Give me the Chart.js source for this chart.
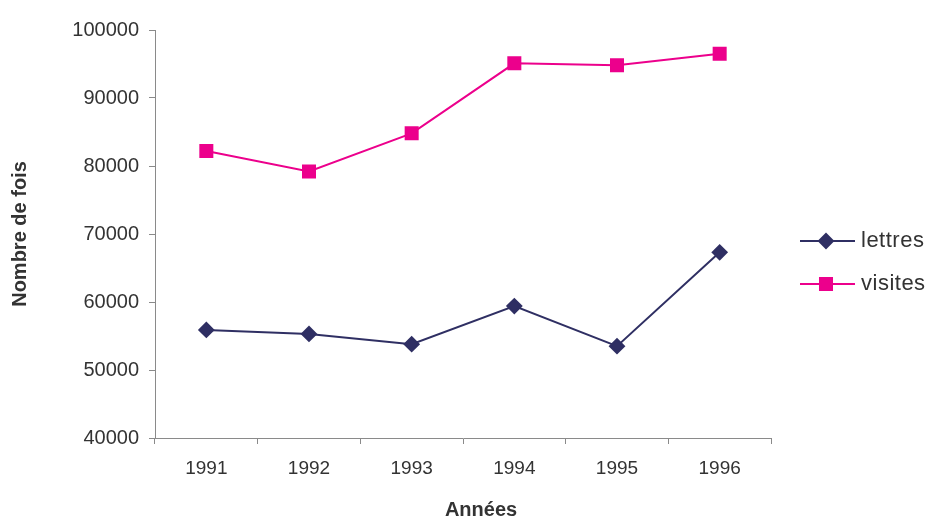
<!DOCTYPE html>
<html>
<head>
<meta charset="utf-8">
<script src="https://cdn.jsdelivr.net/npm/chart.js@4"></script>
<style>
  html, body { margin: 0; padding: 0; background: #fff; }
  #wrap { width: 929px; height: 518px; }
</style>
</head>
<body>
<div id="wrap"><canvas id="chart"></canvas></div>
<script>
const years = ["1991", "1992", "1993", "1994", "1995", "1996"];
const lettres = [55900, 55300, 53800, 59400, 53500, 67300];
const visites = [82200, 79200, 84800, 95100, 94800, 96500];
const yTicks = [40000, 50000, 60000, 70000, 80000, 90000, 100000];

const FONT = "'Liberation Sans', Arial, sans-serif";
const AXIS = "#8a8a8a";
const TEXT = "#333333";

// legend + x title drawn by hand (line with marker, like the original)
const sideLegend = {
  id: "sideLegend",
  afterDraw(chart) {
    const ctx = chart.ctx;
    chart.data.datasets.forEach((ds, i) => {
      const y = 241 + i * 43;
      ctx.save();
      ctx.strokeStyle = ds.borderColor;
      ctx.lineWidth = 2;
      ctx.beginPath();
      ctx.moveTo(800, y);
      ctx.lineTo(855, y);
      ctx.stroke();
      Chart.helpers.drawPoint(ctx, {
        pointStyle: ds.pointStyle,
        radius: ds.pointRadius,
        borderWidth: 1
      }, 826, y);
      ctx.fillStyle = ds.borderColor;
      ctx.fill();
      ctx.fillStyle = TEXT;
      ctx.font = "22px " + FONT;
      ctx.letterSpacing = "0.5px";
      ctx.textBaseline = "middle";
      ctx.fillText(ds.label, 861, y);
      ctx.restore();
    });
    ctx.save();
    ctx.fillStyle = TEXT;
    ctx.font = "bold 20px " + FONT;
    ctx.textAlign = "center";
    ctx.textBaseline = "alphabetic";
    ctx.fillText("Années", 481, 516);
    ctx.restore();
  }
};

new Chart(document.getElementById("chart"), {
  type: "line",
  data: {
    labels: years,
    datasets: [
      {
        label: "lettres",
        data: lettres,
        borderColor: "#2f2f63",
        backgroundColor: "#2f2f63",
        borderWidth: 2,
        pointStyle: "rectRot",
        pointRadius: 7,
        pointHoverRadius: 7,
        tension: 0
      },
      {
        label: "visites",
        data: visites,
        borderColor: "#ec008c",
        backgroundColor: "#ec008c",
        borderWidth: 2,
        pointStyle: "rect",
        pointRadius: 8.5,
        pointHoverRadius: 8.5,
        tension: 0
      }
    ]
  },
  plugins: [sideLegend],
  options: {
    responsive: true,
    maintainAspectRatio: false,
    animation: false,
    layout: { padding: { top: 30, right: 158, left: 0, bottom: 0 } },
    plugins: {
      legend: { display: false },
      tooltip: { enabled: false }
    },
    scales: {
      x: {
        offset: true,
        grid: {
          offset: true,
          drawOnChartArea: false,
          drawTicks: true,
          tickLength: 6,
          color: AXIS
        },
        border: { display: true, color: AXIS, width: 1 },
        ticks: {
          color: TEXT,
          font: { family: FONT, size: 19 },
          padding: 13,
          maxRotation: 0
        },
        afterFit(scale) { scale.height = 80; }
      },
      y: {
        min: 40000,
        max: 100000,
        afterBuildTicks(scale) { scale.ticks = yTicks.map(v => ({ value: v })); },
        grid: {
          drawOnChartArea: false,
          drawTicks: true,
          tickLength: 6,
          color: AXIS
        },
        border: { display: true, color: AXIS, width: 1 },
        ticks: {
          color: TEXT,
          font: { family: FONT, size: 20 },
          padding: 10,
          callback: v => String(v)
        },
        title: {
          display: true,
          text: "Nombre de fois",
          color: TEXT,
          font: { family: FONT, size: 20, weight: "bold" },
          padding: { top: 8, bottom: 4 }
        },
        afterFit(scale) { scale.width = 155; }
      }
    }
  }
});
</script>
</body>
</html>
